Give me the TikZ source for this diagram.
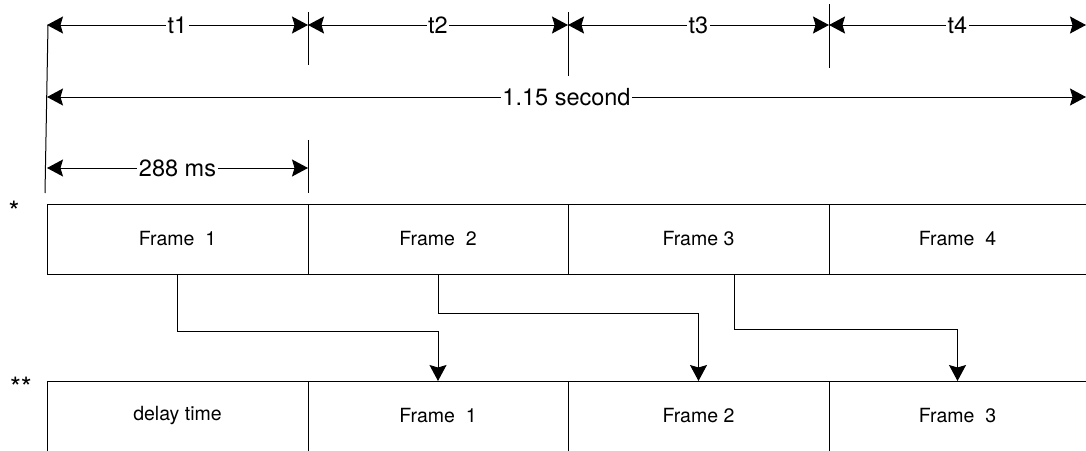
\documentclass[tikz,border=0pt]{standalone}
\usepackage{fontspec}
\setmainfont{TeX Gyre Heros}
\usetikzlibrary{arrows.meta}
\begin{document}
\begin{tikzpicture}[x=1pt,y=-1pt,line width=1pt,
  tipline/.style={-{Stealth[length=16pt,width=17pt,inset=2.5pt]}},
  dimline/.style={{Stealth[length=16pt,width=17pt,inset=2.5pt]}-{Stealth[length=16pt,width=17pt,inset=2.5pt]}},
  dimlabel/.style={fill=white,inner sep=1.5pt,font=\fontsize{23.5}{24}\selectfont},
  framebox/.style={rectangle,inner sep=0pt,outer sep=0pt,minimum height=70pt,font=\fontsize{19.5}{20}\selectfont},
  starlabel/.style={inner sep=0pt,font=\fontsize{28}{28}\selectfont}]
\useasboundingbox (0,0) rectangle (1086,450);

% row 1
\node[framebox,minimum width=261pt] (f1) at (177.5,239) {Frame~~1};
\node[framebox,minimum width=260pt] (f2) at (438,239) {Frame~~2};
\node[framebox,minimum width=261pt] (f3) at (698.5,239) {Frame 3};
\node[framebox,minimum width=257pt] (f4) at (957.5,239) {Frame~~4};
% row 2
\node[framebox,minimum width=261pt] (g1) at (177.5,416) {delay time};
\node[framebox,minimum width=260pt] (g2) at (438,416) {Frame~~1};
\node[framebox,minimum width=261pt] (g3) at (698.5,416) {Frame 2};
\node[framebox,minimum width=257pt] (g4) at (957.5,416) {Frame~~3};

\node[starlabel] (s1) at (14,211) {*};
\node[starlabel] (s2) at (21,387) {**};

% box lines row 1
\draw (f1.north west) -- (f4.north east);
\draw (f1.south west) -- (f4.south east);
\draw (f1.north west) -- (f1.south west);
\draw (f1.north east) -- (f1.south east);
\draw (f2.north east) -- (f2.south east);
\draw (f3.north east) -- (f3.south east);
% box lines row 2
\draw (g1.north west) -- (g4.north east);
\draw (g1.north west) -- (g1.south west);
\draw (g1.north east) -- (g1.south east);
\draw (g2.north east) -- (g2.south east);
\draw (g3.north east) -- (g3.south east);

% connectors
\draw[tipline] (f1.south) -- ++(0,57) -| (g2.north);
\draw[tipline] (f2.south) -- ++(0,39) -| (g3.north);
\draw[tipline] ([xshift=36pt]f3.south) -- ++(0,55) -| (g4.north);

% dimension coordinates
\coordinate (a0) at (47,25);
\coordinate (a1) at (308,25);
\coordinate (a2) at (568,25);
\coordinate (a3) at (829,25);
\coordinate (a4) at (1086,25);
\coordinate (b0) at (47,97);
\coordinate (b1) at (1086,97);
\coordinate (c0) at (47,168);
\coordinate (c1) at (308,168);

% ticks
\draw (48,25) -- (45,193);
\draw (308,12) -- (308,65);
\draw (568,12) -- (568,76);
\draw (829,4) -- (829,68);
\draw (308,140) -- (308,193);

% dimension arrows
\draw[dimline] (a0) -- node[dimlabel] (lt1) {t1} (a1);
\draw[dimline] (a1) -- node[dimlabel] (lt2) {t2} (a2);
\draw[dimline] (a2) -- node[dimlabel] (lt3) {t3} (a3);
\draw[dimline] (a3) -- node[dimlabel] (lt4) {t4} (a4);
\draw[dimline] (b0) -- node[dimlabel] (lsec) {1.15 second} (b1);
\draw[dimline] (c0) -- node[dimlabel] (lms) {288 ms} (c1);
\end{tikzpicture}
\end{document}
